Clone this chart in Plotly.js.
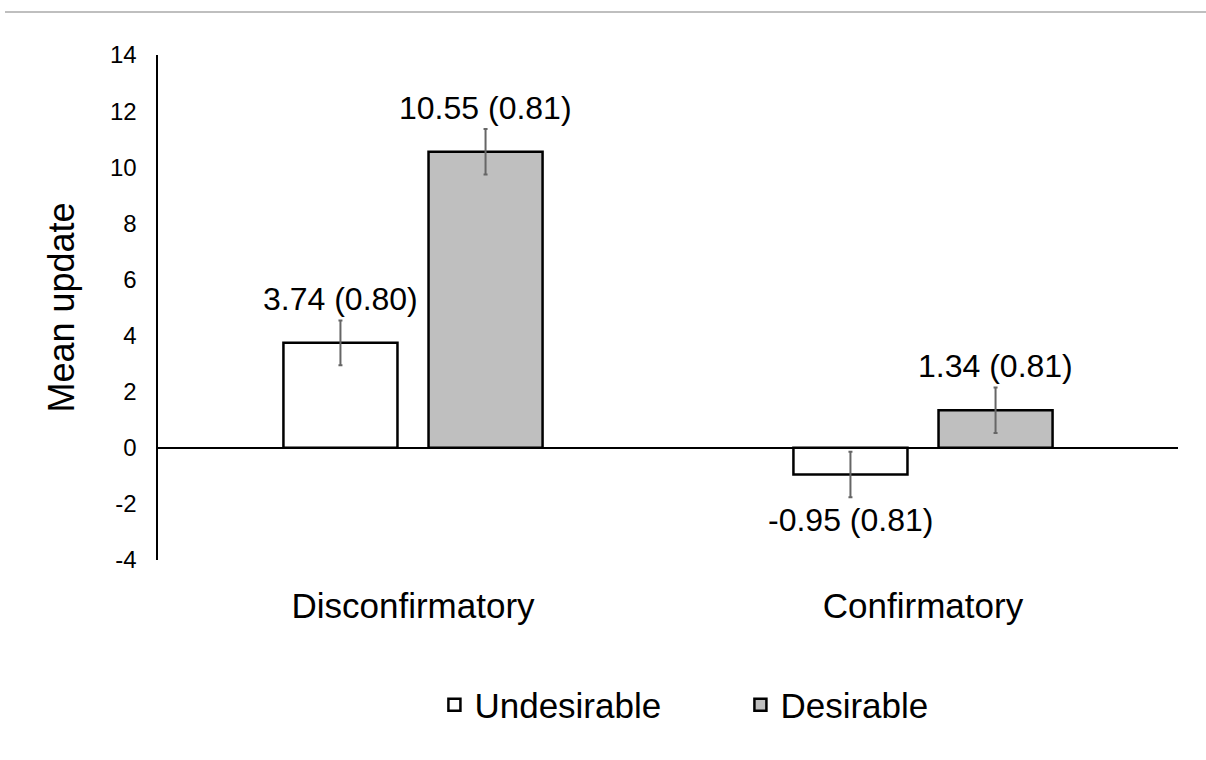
<!DOCTYPE html>
<html><head><meta charset="utf-8">
<script src="https://cdn.plot.ly/plotly-3.0.1.min.js"></script>
<style>body{margin:0;background:#fff}#c{width:1206px;height:760px}</style>
</head><body><div id="c"></div>
<script>
const categories = ["Disconfirmatory", "Confirmatory"];
const undesirable = [3.74, -0.95];
const undesirableSE = [0.80, 0.81];
const desirable = [10.55, 1.34];
const desirableSE = [0.81, 0.81];
const seriesNames = ["Undesirable", "Desirable"];
const yTickVals = [-4, -2, 0, 2, 4, 6, 8, 10, 12, 14];
const yTickText = ["-4", "-2", "0", "2", "4", "6", "8", "10", "12", "14"];

const font = "Arial, 'Liberation Sans', sans-serif";
const errStyle = {type:"data", visible:true, color:"#666666", thickness:2, width:2};

const traces = [
  {type:"bar", name:seriesNames[0], x:categories, y:undesirable,
   marker:{color:"#ffffff", line:{color:"#000000", width:2.5}},
   error_y:Object.assign({array:undesirableSE}, errStyle)},
  {type:"bar", name:seriesNames[1], x:categories, y:desirable,
   marker:{color:"#bfbfbf", line:{color:"#000000", width:2.5}},
   error_y:Object.assign({array:desirableSE}, errStyle)}
];

const annotations = [];
function addLabels(vals, ses, shift){
  vals.forEach((v,i)=>{
    const pos = v >= 0;
    annotations.push({
      x: categories[i], y: pos ? v + ses[i] : v - ses[i],
      xref:"x", yref:"y", xshift: shift, yshift: pos ? 1 : -3,
      yanchor: pos ? "bottom" : "top", xanchor:"center",
      text: v.toFixed(2) + " (" + ses[i].toFixed(2) + ")",
      showarrow:false, font:{family:font, size:32, color:"#000"}
    });
  });
}
addLabels(undesirable, undesirableSE, -72.5);
addLabels(desirable, desirableSE, 72.5);

const layout = {
  width:1206, height:760,
  margin:{l:158, r:28, t:55, b:200},
  paper_bgcolor:"#fff", plot_bgcolor:"#fff",
  barmode:"group", bargap:0.431, bargroupgap:0.214,
  font:{family:font, color:"#000"},
  showlegend:true,
  legend:{orientation:"h", x:0.571, xanchor:"center", y:-0.287, yanchor:"middle",
          font:{family:font, size:35, color:"#000"}, itemwidth:30, entrywidth:261},
  xaxis:{showline:false, showgrid:false, zeroline:false,
         ticks:"outside", ticklen:15, tickcolor:"rgba(0,0,0,0)",
         tickfont:{family:font, size:35, color:"#000"}},
  yaxis:{range:[-4,14], tickmode:"array", tickvals:yTickVals, ticktext:yTickText, showgrid:false,
         showline:true, linecolor:"#000", linewidth:2.5,
         zeroline:true, zerolinecolor:"#000", zerolinewidth:2.5,
         ticks:"outside", ticklen:14, tickcolor:"rgba(0,0,0,0)",
         tickfont:{family:font, size:24, color:"#000"},
         title:{text:"Mean update", font:{family:font, size:36, color:"#000"}, standoff:25}},
  annotations: annotations,
  shapes:[{type:"line", xref:"paper", yref:"paper", x0:-0.15, x1:1.03, y0:1.085, y1:1.085,
           line:{color:"#bfbfbf", width:2}}]
};

Plotly.newPlot("c", traces, layout, {displayModeBar:false, staticPlot:true});
</script>
</body></html>
